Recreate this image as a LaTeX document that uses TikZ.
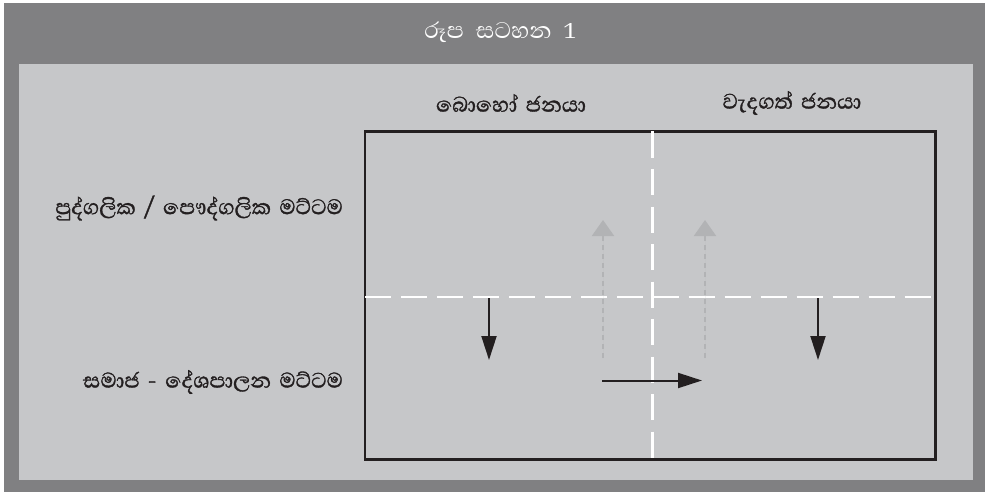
\documentclass[tikz,border=0pt]{standalone}
\usepackage{fontspec}
\newfontfamily\sinhalafont[Script=Sinhala,FakeBold=1.2,WordSpace=1.6]{Abhaya Libre}
\newfontfamily\sinhalatitle[Script=Sinhala,WordSpace=2.2]{Abhaya Libre}
\usepackage{tikz}
\usetikzlibrary{arrows.meta,positioning}
\definecolor{framegray}{RGB}{128,128,130}
\definecolor{panelgray}{RGB}{198,199,201}
\definecolor{ghostgray}{RGB}{178,179,181}
\definecolor{boxblack}{RGB}{35,31,32}
\tikzset{
    %Define standard arrow tip
    >={Triangle[length=24pt,width=15pt]},
    %Define style for labels
    heading/.style={
           font=\sinhalafont\fontsize{27}{30}\selectfont,
           text=boxblack,
           inner sep=0pt},
    titletext/.style={
           font=\sinhalatitle\fontsize{29}{32}\selectfont,
           text=white,
           inner sep=0pt},
    %Define style for divider lines
    divider/.style={
           white,
           line width=2.2pt,
           dash pattern=on 26pt off 10pt},
    % Define arrow styles
    pil/.style={
           ->,
           draw=boxblack,
           fill=boxblack,
           line width=2pt},
    ghost/.style={
           -{Triangle[length=16pt,width=22pt]},
           draw=ghostgray,
           fill=ghostgray,
           line width=2pt,
           dash pattern=on 5pt off 4pt}
}

\begin{document}
\begin{tikzpicture}[x=1pt,y=-1pt]
\useasboundingbox (0,0) rectangle (985,492);
 %frames
\fill[framegray] (4,3) rectangle (985,492);
\fill[panelgray] (19,64) rectangle (973,480);
 %corners of the grid
\coordinate (tl) at (365,131.5);
\coordinate (br) at (935.5,459.5);
\coordinate (top) at (652.5,131.5);
\coordinate (bot) at (652.5,459.5);
\coordinate (left) at (365,297);
\coordinate (mid) at (652.5,297);
\coordinate (right) at (935.5,297);
\draw[boxblack, line width=2.5pt] (tl) rectangle (br);
\draw[divider, dash pattern=on 26pt off 11.5pt] (top) -- (bot);
\draw[divider] (left) -- (mid);
\draw[divider] (mid) -- (right);
 %texts
\node[titletext] (title) at (500,32) {රූප සටහන 1};
\node[heading] (many) at (511,103) {බොහෝ ජනයා};
\node[heading] (elite) at (792,103) {වැදගත් ජනයා};
\node[heading, anchor=east] (personal) at (343,208) {පුද්ගලික / පෞද්ගලික මට්ටම};
\node[heading, anchor=east] (social) at (343,382) {සමාජ - දේශපාලන මට්ටම};
 %arrows
\coordinate (a1) at (489,298);
\coordinate (b1) at (489,360);
\coordinate (a2) at (818,298);
\coordinate (b2) at (818,360);
\coordinate (a3) at (602,380.5);
\coordinate (b3) at (702,380.5);
\coordinate (g1) at (603,358);
\coordinate (h1) at (603,220);
\coordinate (g2) at (705,358);
\coordinate (h2) at (705,220);
\draw[ghost] (g1) -- (h1);
\draw[ghost] (g2) -- (h2);
\draw[pil] (a1) -- (b1);
\draw[pil] (a2) -- (b2);
\draw[pil] (a3) -- (b3);
\end{tikzpicture}
\end{document}
